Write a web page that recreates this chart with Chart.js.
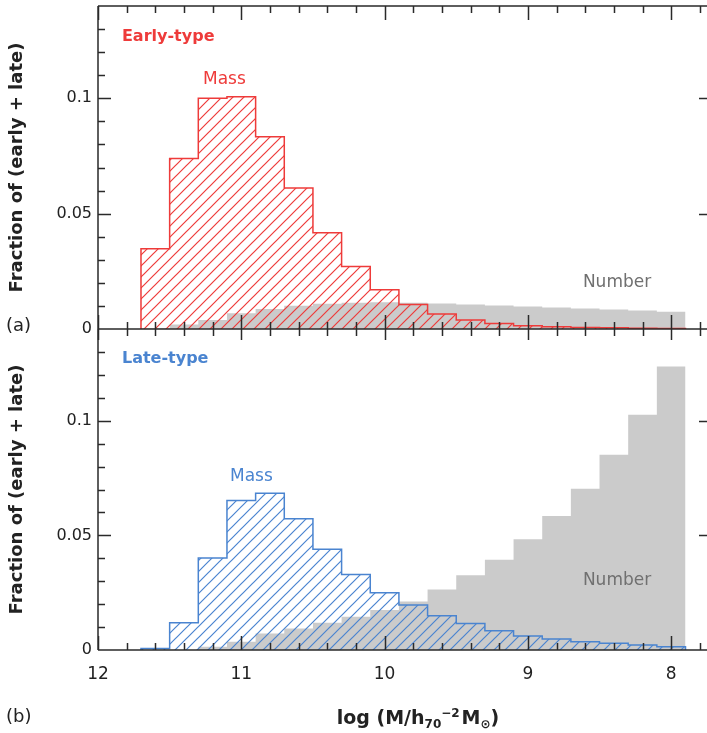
<!DOCTYPE html>
<html>
<head>
<meta charset="utf-8">
<script src="https://cdn.jsdelivr.net/npm/chart.js@4.4.0/dist/chart.umd.min.js"></script>
<style>
  body { margin: 0; background: #fff; }
  #wrap { position: relative; width: 707px; height: 733px; font-family: "DejaVu Sans", sans-serif; color: #222; }
  #wrap canvas { position: absolute; left: 0; top: 0; }
  .tag { position: absolute; left: 6px; font-size: 18px; line-height: 20px; }
  #xtitle { position: absolute; left: 418px; top: 702px; transform: translateX(-50%); white-space: nowrap;
            font-weight: bold; font-size: 19px; line-height: 22px; }
  #xtitle sub, #xtitle sup { font-size: 12px; }
  #xtitle sup { vertical-align: 7px; }
  #xtitle sub { vertical-align: -4px; }
</style>
</head>
<body>
<div id="wrap">
  <canvas id="bottomChart" width="707" height="733"></canvas>
  <canvas id="topChart" width="707" height="340"></canvas>
  <div class="tag" style="top:315px">(a)</div>
  <div class="tag" style="top:706px">(b)</div>
  <div id="xtitle">log (M/h<sub>70</sub><sup>&minus;2</sup>&#8202;M<sub>&#8857;</sub>)</div>
</div>
<script>
// bins of 0.2 dex, centres in log(M)
const binCenters = [11.6, 11.4, 11.2, 11.0, 10.8, 10.6, 10.4, 10.2, 10.0, 9.8,
                    9.6, 9.4, 9.2, 9.0, 8.8, 8.6, 8.4, 8.2, 8.0];
const binWidth = 0.2;

// (a) early-type
const earlyMass   = [0.0348, 0.0739, 0.1000, 0.1007, 0.0833, 0.0611, 0.0417, 0.0271, 0.0170, 0.0106,
                     0.0065, 0.0039, 0.0024, 0.0014, 0.0010, 0.0007, 0.0005, 0.0003, 0.0002];
const earlyNumber = [0.0003, 0.0020, 0.0039, 0.0068, 0.0087, 0.0101, 0.0109, 0.0114, 0.0116, 0.0114,
                     0.0110, 0.0106, 0.0102, 0.0098, 0.0093, 0.0089, 0.0085, 0.0080, 0.0075];

// (b) late-type
const lateMass    = [0.0007, 0.0119, 0.0401, 0.0652, 0.0684, 0.0572, 0.0439, 0.0329, 0.0250, 0.0196,
                     0.0149, 0.0116, 0.0084, 0.0061, 0.0048, 0.0036, 0.0029, 0.0022, 0.0014];
const lateNumber  = [0, 0, 0.0014, 0.0036, 0.0072, 0.0094, 0.0119, 0.0145, 0.0174, 0.0211,
                     0.0264, 0.0326, 0.0394, 0.0483, 0.0584, 0.0703, 0.0852, 0.1026, 0.1236];

// axis ticks
const xTickValues = [12, 11, 10, 9, 8];
const xTickLabels = ['12', '11', '10', '9', '8'];
const yTickValues = [0, 0.05, 0.1];
const yTickLabels = ['0', '0.05', '0.1'];

const RED = '#ee3b3a';
const BLUE = '#4a84d0';
const GRAY = '#cbcbcb';
const AXIS = '#2a2a2a';

// outline of a histogram as a stepped line, closed down to zero at both ends
function stepPoints(values) {
  const pts = [{ x: binCenters[0] + binWidth / 2, y: 0 }];
  values.forEach((v, i) => pts.push({ x: binCenters[i] + binWidth / 2, y: v }));
  pts.push({ x: binCenters[binCenters.length - 1] - binWidth / 2, y: 0 });
  return pts;
}

function hatch(canvas, color) {
  const tile = document.createElement('canvas');
  tile.width = tile.height = 11;
  const g = tile.getContext('2d');
  g.strokeStyle = color;
  g.lineWidth = 1.2;
  g.beginPath();
  g.moveTo(-1, 12); g.lineTo(12, -1);
  g.moveTo(-1, 1); g.lineTo(1, -1);
  g.moveTo(10, 12); g.lineTo(12, 10);
  g.stroke();
  return canvas.getContext('2d').createPattern(tile, 'repeat');
}

// frame, inward ticks (major + minor) on every side
const framePlugin = {
  id: 'frame',
  afterDatasetsDraw(chart, args, opts) {
    const { ctx, chartArea: a, scales: { x, y } } = chart;
    ctx.save();
    ctx.strokeStyle = AXIS;
    ctx.lineWidth = 1.5;
    ctx.beginPath();
    ctx.moveTo(a.left, a.top); ctx.lineTo(a.left, a.bottom);
    ctx.moveTo(a.left, a.bottom); ctx.lineTo(a.right, a.bottom);
    if (opts.topLine) { ctx.moveTo(a.left, a.top); ctx.lineTo(a.right + 1, a.top); }
    // x ticks every 0.2
    for (let k = 0; k <= 21; k++) {
      const v = 12 - k * 0.2;
      const px = Math.round(x.getPixelForValue(v)) + 0.5;
      const len = k % 5 === 0 ? 14 : 7;
      if (opts.topLine) { ctx.moveTo(px, a.top); ctx.lineTo(px, a.top + len); }
      if (opts.bottomUp) { ctx.moveTo(px, a.bottom); ctx.lineTo(px, a.bottom - len); }
      if (opts.bottomDown) { ctx.moveTo(px, a.bottom); ctx.lineTo(px, a.bottom + len); }
    }
    // y ticks every 0.01
    for (let k = 1; k <= 13; k++) {
      const py = Math.round(y.getPixelForValue(k * 0.01)) + 0.5;
      const major = k % 5 === 0;
      ctx.moveTo(a.left, py); ctx.lineTo(a.left + (major ? 13 : 7), py);
      if (major) { ctx.moveTo(a.right, py); ctx.lineTo(a.right - 8, py); }
    }
    ctx.stroke();
    ctx.restore();
  }
};

// text notes placed in data coordinates
const notesPlugin = {
  id: 'notes',
  afterDatasetsDraw(chart, args, opts) {
    const { ctx, scales: { x, y } } = chart;
    ctx.save();
    ctx.textAlign = 'left';
    ctx.textBaseline = 'middle';
    (opts.items || []).forEach(n => {
      ctx.font = n.font;
      ctx.fillStyle = n.color;
      ctx.fillText(n.text, x.getPixelForValue(n.x), y.getPixelForValue(n.y));
    });
    ctx.restore();
  }
};

function panel(canvasId, mass, number, color, notes, frame, bottom) {
  const canvas = document.getElementById(canvasId);
  return new Chart(canvas, {
    type: 'line',
    data: {
      datasets: [
        {
          label: 'Mass',
          data: stepPoints(mass),
          stepped: 'before',
          borderColor: color,
          borderWidth: 1.5,
          backgroundColor: hatch(canvas, color),
          fill: 'origin',
          pointRadius: 0
        },
        {
          label: 'Number',
          data: stepPoints(number),
          stepped: 'before',
          borderColor: 'rgba(0,0,0,0)',
          borderWidth: 0,
          backgroundColor: GRAY,
          fill: 'origin',
          pointRadius: 0
        }
      ]
    },
    options: {
      responsive: false,
      animation: false,
      devicePixelRatio: 1,
      layout: { padding: bottom ? { top: 329, right: 0, bottom: 0, left: 0 }
                                : { top: 6, right: 0, bottom: 11, left: 0 } },
      plugins: {
        legend: { display: false },
        tooltip: { enabled: false },
        frame: frame,
        notes: { items: notes }
      },
      scales: {
        x: {
          type: 'linear',
          reverse: true,
          min: 7.75,
          max: 12,
          display: bottom,
          afterFit: s => { s.height = bottom ? 83 : 0; s.paddingLeft = 0; s.paddingRight = 0; },
          afterBuildTicks: s => { s.ticks = xTickValues.map(v => ({ value: v })); },
          grid: { display: false, drawTicks: false },
          border: { display: false },
          ticks: {
            padding: 14,
            maxRotation: 0,
            autoSkip: false,
            color: '#222',
            font: { family: 'DejaVu Sans', size: 17 },
            callback: (v, i) => xTickLabels[i]
          }
        },
        y: {
          min: 0,
          max: 0.14,
          afterFit: s => { s.width = 98; s.paddingTop = 0; s.paddingBottom = 0; },
          afterBuildTicks: s => { s.ticks = yTickValues.map(v => ({ value: v })); },
          grid: { display: false, drawTicks: false },
          border: { display: false },
          ticks: {
            padding: 6,
            color: '#222',
            font: { family: 'DejaVu Sans', size: 16 },
            callback: (v, i) => yTickLabels[i]
          },
          title: {
            display: true,
            text: 'Fraction of (early + late)',
            color: '#222',
            padding: { top: 7, bottom: 0 },
            font: { family: 'DejaVu Sans', size: 18, weight: 'bold' }
          }
        }
      }
    },
    plugins: [framePlugin, notesPlugin]
  });
}

panel('topChart', earlyMass, earlyNumber, RED, [
  { text: 'Early-type', x: 11.833, y: 0.1265, color: RED, font: 'bold 16px "DejaVu Sans"' },
  { text: 'Mass', x: 11.267, y: 0.1083, color: RED, font: '17px "DejaVu Sans"' },
  { text: 'Number', x: 8.616, y: 0.0200, color: '#707070', font: '17px "DejaVu Sans"' }
], { topLine: true, bottomUp: true, bottomDown: true }, false);

panel('bottomChart', lateMass, lateNumber, BLUE, [
  { text: 'Late-type', x: 11.833, y: 0.127, color: BLUE, font: 'bold 16px "DejaVu Sans"' },
  { text: 'Mass', x: 11.079, y: 0.0757, color: BLUE, font: '17px "DejaVu Sans"' },
  { text: 'Number', x: 8.616, y: 0.0304, color: '#707070', font: '17px "DejaVu Sans"' }
], { topLine: false, bottomUp: true, bottomDown: false }, true);
</script>
</body>
</html>
